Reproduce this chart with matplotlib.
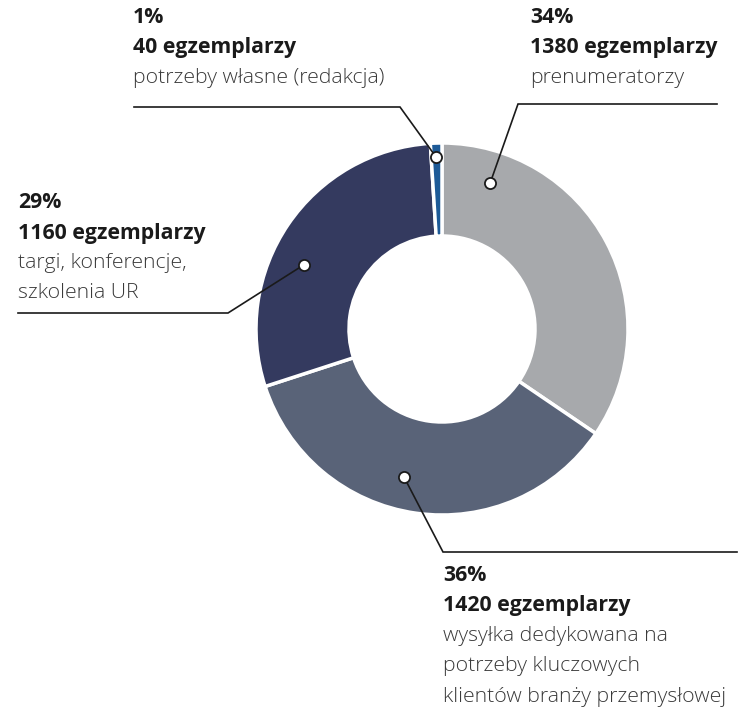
import matplotlib
matplotlib.use("Agg")
import matplotlib.pyplot as plt
import numpy as np

plt.rcParams['font.family'] = ['Open Sans', 'DejaVu Sans']

values = [1380, 1420, 1160, 40]
percents = ["34%", "36%", "29%", "1%"]
counts = ["1380 egzemplarzy", "1420 egzemplarzy", "1160 egzemplarzy", "40 egzemplarzy"]
descriptions = [
    ["prenumeratorzy"],
    ["wysyłka dedykowana na", "potrzeby kluczowych", "klientów branży przemysłowej"],
    ["targi, konferencje,", "szkolenia UR"],
    ["potrzeby własne (redakcja)"],
]
colors = ["#A7A9AC", "#596378", "#343A5F", "#1D5A97"]

W, H = 740, 709
fig = plt.figure(figsize=(W / 100, H / 100), dpi=100)
ax = fig.add_axes([0, 0, 1, 1])

cx, cy = 442, H - 329
R = 186
wedges, _ = ax.pie(values, colors=colors, startangle=90, counterclock=False,
                   radius=R, center=(cx, cy),
                   wedgeprops=dict(width=R * 0.5, edgecolor="white", linewidth=2.5))
ax.set_xlim(0, W)
ax.set_ylim(0, H)
ax.set_aspect('equal')
ax.axis('off')

# marker placement: fraction along wedge (from its start, clockwise), radius fraction
marker_frac = [0.147, 0.55, 0.41, 0.45]
marker_r = [0.825, 0.82, 0.82, 0.925]
leaders = [(518, 104, 717), (443, 552, 737), (228, 313, 18), (400, 107, 134)]
text_pos = [(530, 7), (443, 565), (18, 192), (133, 7)]

for i, w in enumerate(wedges):
    # clockwise: theta2 is the start, theta1 the end
    ang = w.theta2 - marker_frac[i] * (w.theta2 - w.theta1)
    mid = np.deg2rad(ang)
    mx = cx + R * marker_r[i] * np.cos(mid)
    my = cy + R * marker_r[i] * np.sin(mid)
    ex, ey, endx = leaders[i]
    ey = H - ey
    ax.plot([mx, ex, endx], [my, ey, ey], color="#1a1a1a", lw=1.2, zorder=3,
            solid_joinstyle='miter')
    ax.plot(mx, my, 'o', ms=8, mfc='white', mec='#1a1a1a', mew=1.3, zorder=4)

    tx, ty = text_pos[i]
    lines = [(percents[i], 'bold'), (counts[i], 'bold')] + [(d, 'light') for d in descriptions[i]]
    for j, (s, wt) in enumerate(lines):
        ax.text(tx, H - (ty + j * 30.5), s, fontsize=15.3, fontweight=wt,
                color="#1a1a1a" if wt == 'bold' else "#3a3a3a",
                ha='left', va='top')

fig.savefig("out.png", dpi=100)
